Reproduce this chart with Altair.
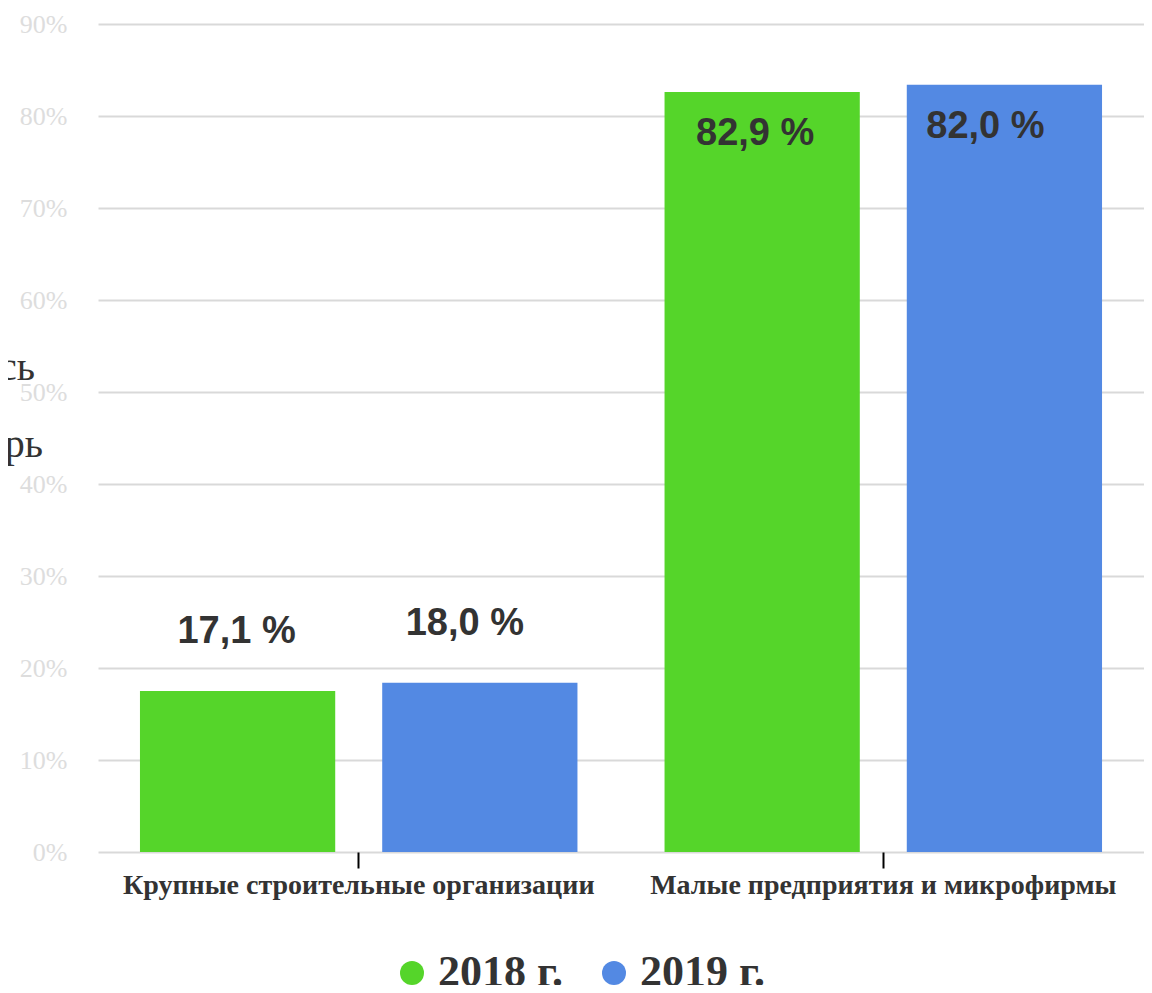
import altair as alt
import pandas as pd

categories = ["Крупные строительные организации", "Малые предприятия и микрофирмы"]
years = ["2018 г.", "2019 г."]
values_2018 = [17.5, 82.6]
values_2019 = [18.4, 83.4]
labels_2018 = ["17,1 %", "82,9 %"]
labels_2019 = ["18,0 %", "82,0 %"]
colors = ["#55D52A", "#5389E3"]
y_ticks = [0, 10, 20, 30, 40, 50, 60, 70, 80, 90]
side_fragments = ["сь", "рь"]

rows = []
for i, c in enumerate(categories):
    rows.append(dict(cat=c, year=years[0], value=values_2018[i], label=labels_2018[i]))
    rows.append(dict(cat=c, year=years[1], value=values_2019[i], label=labels_2019[i]))
df = pd.DataFrame(rows)

x = alt.X(
    "cat:N", sort=categories,
    scale=alt.Scale(paddingInner=0.166, paddingOuter=0.08),
    axis=alt.Axis(title=None, labelFont="Liberation Serif", labelFontWeight="bold",
                  labelFontSize=28, labelColor="#333333", tickColor="#000000",
                  tickWidth=2, tickSize=16, domain=False, labelPadding=3,
                  labelAngle=0, grid=False, labelLimit=1000),
)
xo = alt.XOffset("year:N", sort=years, scale=alt.Scale(paddingInner=0.194, paddingOuter=0))
y = alt.Y(
    "value:Q",
    scale=alt.Scale(domain=[0, 90], nice=False),
    axis=alt.Axis(values=y_ticks, title=None, labelExpr="datum.value + '%'",
                  labelFont="Liberation Serif", labelFontSize=26, labelColor="#dddddd",
                  grid=True, gridColor="#d9d9d9", gridWidth=2, domain=False,
                  ticks=False, labelPadding=31),
)
color = alt.Color(
    "year:N", sort=years,
    scale=alt.Scale(domain=years, range=colors),
    legend=alt.Legend(title=None, orient="none", legendX=292, legendY=927,
                      direction="horizontal", symbolType="circle", symbolSize=576,
                      symbolStrokeWidth=0, symbolOpacity=1,
                      labelFont="Liberation Serif", labelFontWeight="bold",
                      labelFontSize=44, labelColor="#333333", labelOffset=4,
                      columnPadding=28),
)

bars = alt.Chart(df).mark_bar(opacity=1).encode(x=x, xOffset=xo, y=y, color=color)

text_style = dict(font="Liberation Sans", fontWeight="bold", fontSize=38,
                  color="#333333", baseline="alphabetic")


def value_labels(year, cond, dx, dy):
    return alt.Chart(df).transform_filter(
        f"datum.year == '{year}' && {cond}"
    ).mark_text(dx=dx, dy=dy, **text_style).encode(x=x, xOffset=xo, y=y, text="label:N")


label_layers = [
    value_labels(years[0], "datum.value < 50", -1, -48),
    value_labels(years[1], "datum.value < 50", -15, -48),
    value_labels(years[0], "datum.value >= 50", -7, 53),
    value_labels(years[1], "datum.value >= 50", -19, 53),
]

frag_style = dict(font="Liberation Serif", fontSize=40, color="#333333",
                  align="right", baseline="alphabetic")
frag1 = alt.Chart(pd.DataFrame({"t": [side_fragments[0]]})).mark_text(**frag_style).encode(
    x=alt.value(-63), y=alt.value(356), text="t:N")
frag2 = alt.Chart(pd.DataFrame({"t": [side_fragments[1]]})).mark_text(**frag_style).encode(
    x=alt.value(-55), y=alt.value(433), text="t:N")

chart = alt.layer(bars, *label_layers, frag1, frag2).properties(
    width=1046, height=828,
    autosize=alt.AutoSizeParams(type="none"),
    padding={"left": 90, "top": 16, "right": 0, "bottom": 133},
).configure_view(stroke=None)

chart.save("out.html", embed_options={"renderer": "svg", "actions": False})
